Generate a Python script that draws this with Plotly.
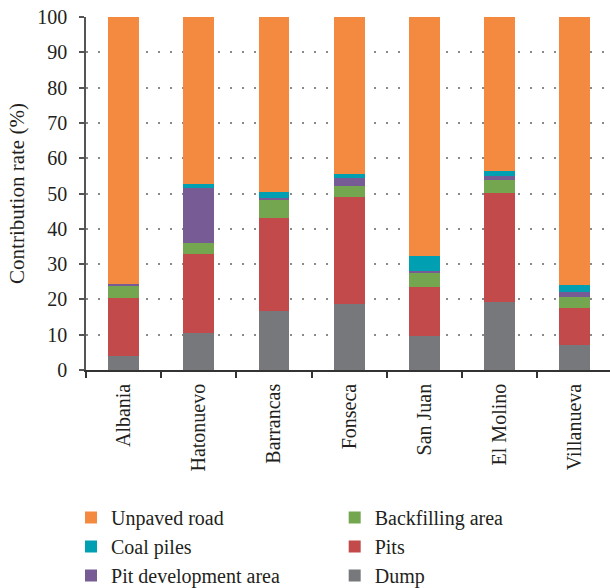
import plotly.graph_objects as go

categories = ["Albania", "Hatonuevo", "Barrancas", "Fonseca", "San Juan", "El Molino", "Villanueva"]

dump = [4.0, 10.4, 16.6, 18.8, 9.6, 19.3, 7.0]
pits = [16.4, 22.6, 26.6, 30.1, 13.8, 30.8, 10.6]
backfilling = [3.4, 3.0, 4.9, 3.2, 4.0, 3.7, 3.0]
pit_development = [0.6, 15.6, 0.7, 2.2, 0.7, 1.2, 1.4]
coal_piles = [0.1, 1.0, 1.6, 1.3, 4.2, 1.4, 2.0]
unpaved_road = [75.5, 47.4, 49.6, 44.4, 67.7, 43.6, 76.0]

y_ticks = [0, 10, 20, 30, 40, 50, 60, 70, 80, 90, 100]

FONT = "Liberation Serif"
TXT = "#231F20"

series = [
    ("Dump", dump, "#77787B", "legend2", 3),
    ("Pits", pits, "#C24A4A", "legend2", 2),
    ("Backfilling area", backfilling, "#74A64F", "legend2", 1),
    ("Pit development area", pit_development, "#765B95", "legend", 3),
    ("Coal piles", coal_piles, "#00A0B2", "legend", 2),
    ("Unpaved road", unpaved_road, "#F48A40", "legend", 1),
]

fig = go.Figure()
for name, vals, color, leg, rank in series:
    fig.add_trace(go.Bar(
        x=categories, y=vals, name=name,
        marker=dict(color=color, line=dict(width=0)),
        width=0.41, legend=leg, legendrank=rank,
    ))

legend_common = dict(
    font=dict(family=FONT, size=20, color=TXT),
    orientation="v", traceorder="normal",
    bgcolor="rgba(0,0,0,0)", borderwidth=0,
    yanchor="top", xanchor="left",
)

fig.update_layout(
    width=610, height=588,
    margin=dict(l=86, r=0, t=17, b=218, autoexpand=False),
    paper_bgcolor="white", plot_bgcolor="white",
    barmode="stack", bargap=0.59,
    font=dict(family=FONT, size=20, color=TXT),
    showlegend=True,
    legend=dict(x=-0.0286, y=-0.3626, **legend_common),
    legend2=dict(x=0.4746, y=-0.3626, **legend_common),
    xaxis=dict(
        range=[-0.5, 6.47],
        showline=True, linecolor="#333333", linewidth=1.5,
        ticks="outside", tickson="boundaries", ticklen=6, tickcolor="#333333", tickwidth=1.5,
        tickangle=-90, tickfont=dict(family=FONT, size=20, color=TXT),
        ticklabelstandoff=4,
        showgrid=False, zeroline=False,
    ),
    yaxis=dict(
        range=[0, 100], tickvals=y_ticks,
        showline=True, linecolor="#555555", linewidth=1.5,
        ticks="outside", ticklen=5, tickcolor="#555555", tickwidth=1.5,
        tickfont=dict(family=FONT, size=20, color=TXT),
        ticklabelstandoff=8,
        showgrid=True, gridcolor="#8a8a8a", gridwidth=1.5, griddash="2px,10px",
        zeroline=False,
        title=dict(text="Contribution rate (%)", font=dict(family=FONT, size=21, color=TXT), standoff=7),
        automargin=False,
    ),
)

fig.write_html(
    "out.html",
    config={"displayModeBar": False},
    post_script="document.body.style.margin='0';document.body.style.overflow='hidden';",
)
